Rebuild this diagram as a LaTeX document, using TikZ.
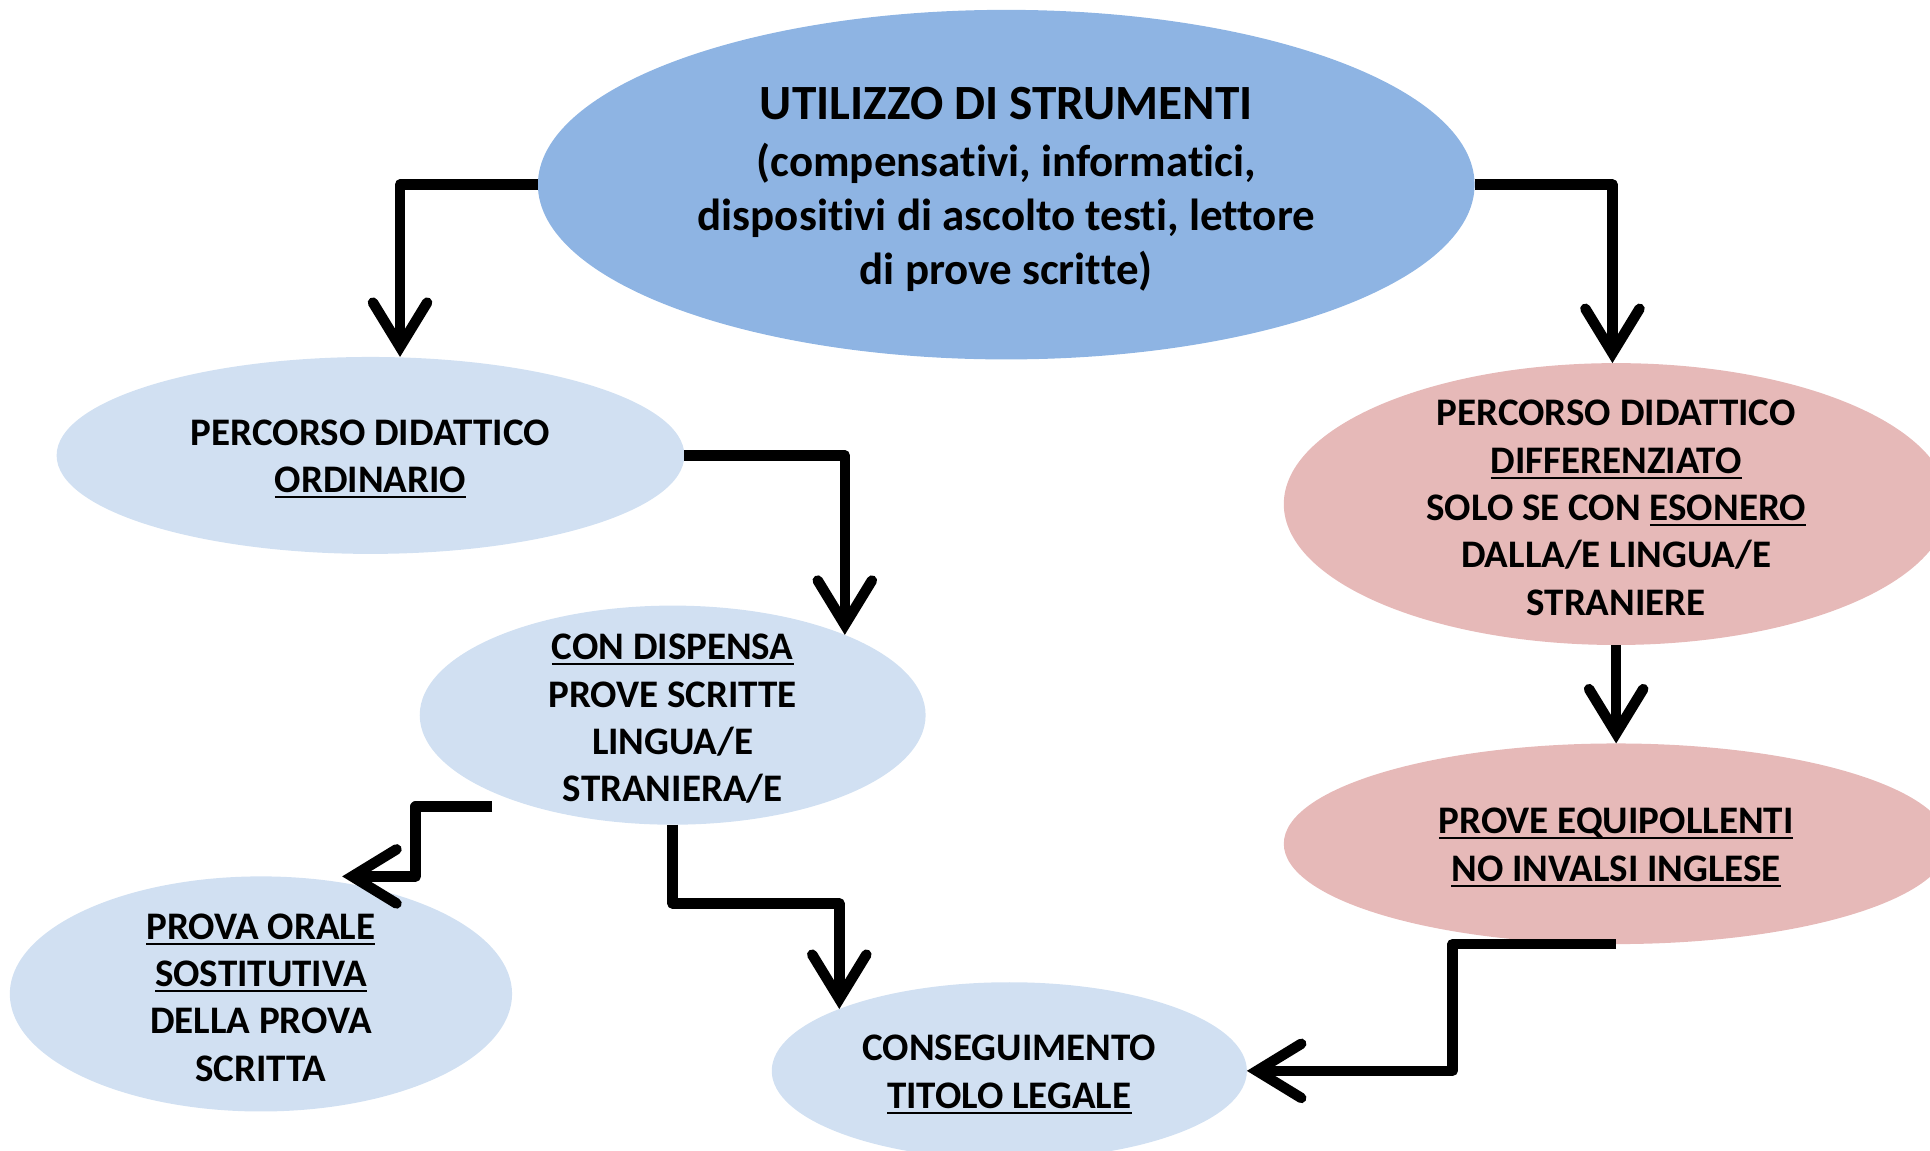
\documentclass[tikz,border=0pt]{standalone}
\usepackage{fontspec}
\setmainfont{Carlito}[Ligatures=NoCommon]
\usetikzlibrary{arrows.meta,shapes.geometric}
\definecolor{topblue}{HTML}{8EB4E3}
\definecolor{paleblue}{HTML}{D1E0F2}
\definecolor{rose}{HTML}{E6B9B8}
\newcommand{\undl}[1]{\leavevmode\setbox0\hbox{#1}\rlap{\rule[-4.5pt]{\wd0}{1.6pt}}\box0}

\begin{document}
\begin{tikzpicture}[x=1pt, y=-1pt,
  blob/.style={ellipse, fill=paleblue, inner sep=0pt, outer sep=0pt},
  txt/.style={font=\bfseries\fontsize{31.7}{38.5}\selectfont, align=center, inner sep=0pt, yshift=-3pt},
  flow/.style={line width=8.5pt, line join=round,
    -{Straight Barb[length=36pt, width=44pt, line cap=round, line join=miter]}}]
  \useasboundingbox (0,0) rectangle (1568,935);

  \node[blob, fill=topblue, minimum width=761pt, minimum height=284pt,
    label={[txt, font=\bfseries\fontsize{36.5}{44}\selectfont, yshift=-1pt]center:{{\fontsize{40}{47}\selectfont UTILIZZO DI STRUMENTI}\\[2pt](compensativi, informatici,\\dispositivi di ascolto testi, lettore\\di prove scritte)}}] (util) at (817.5,150) {};
  \node[blob, minimum width=510pt, minimum height=160pt,
    label={[txt]center:{PERCORSO DIDATTICO\\\undl{ORDINARIO}}}] (ord) at (301,370) {};
  \node[blob, minimum width=411pt, minimum height=178pt,
    label={[txt]center:{\undl{CON DISPENSA}\\PROVE SCRITTE\\LINGUA/E\\STRANIERA/E}}] (disp) at (546.5,581) {};
  \node[blob, minimum width=408pt, minimum height=191pt,
    label={[txt]center:{\undl{PROVA ORALE}\\\undl{SOSTITUTIVA}\\DELLA PROVA\\SCRITTA}}] (oral) at (212,807.5) {};
  \node[blob, minimum width=386pt, minimum height=144pt,
    label={[txt]center:{CONSEGUIMENTO\\\undl{TITOLO LEGALE}}}] (titolo) at (820,870) {};
  \node[blob, fill=rose, minimum width=540pt, minimum height=229pt,
    label={[txt]center:{PERCORSO DIDATTICO\\\undl{DIFFERENZIATO}\\SOLO SE CON \undl{ESONERO}\\DALLA/E LINGUA/E\\STRANIERE}}] (diff) at (1313,409.5) {};
  \node[blob, fill=rose, minimum width=540pt, minimum height=163pt,
    label={[txt]center:{\undl{PROVE EQUIPOLLENTI}\\\undl{NO INVALSI INGLESE}}}] (equi) at (1313,685.5) {};

  \draw[flow] (util.west) -| ([xshift=24pt]ord.north);
  \draw[flow] (util.east) -| ([xshift=-3pt]diff.north);
  \draw[flow] (ord.east) -| (disp.25.7);
  \draw[flow] ([yshift=-12pt]disp.203) -- ++(-62,0) |- ([xshift=66pt]oral.north);
  \draw[flow] (disp.south) -- ++(0,64) -| (titolo.160);
  \draw[flow] (diff.south) -- (equi.north);
  \draw[flow] (equi.south) -- ++(-133,0) |- (titolo.east);
\end{tikzpicture}
\end{document}
